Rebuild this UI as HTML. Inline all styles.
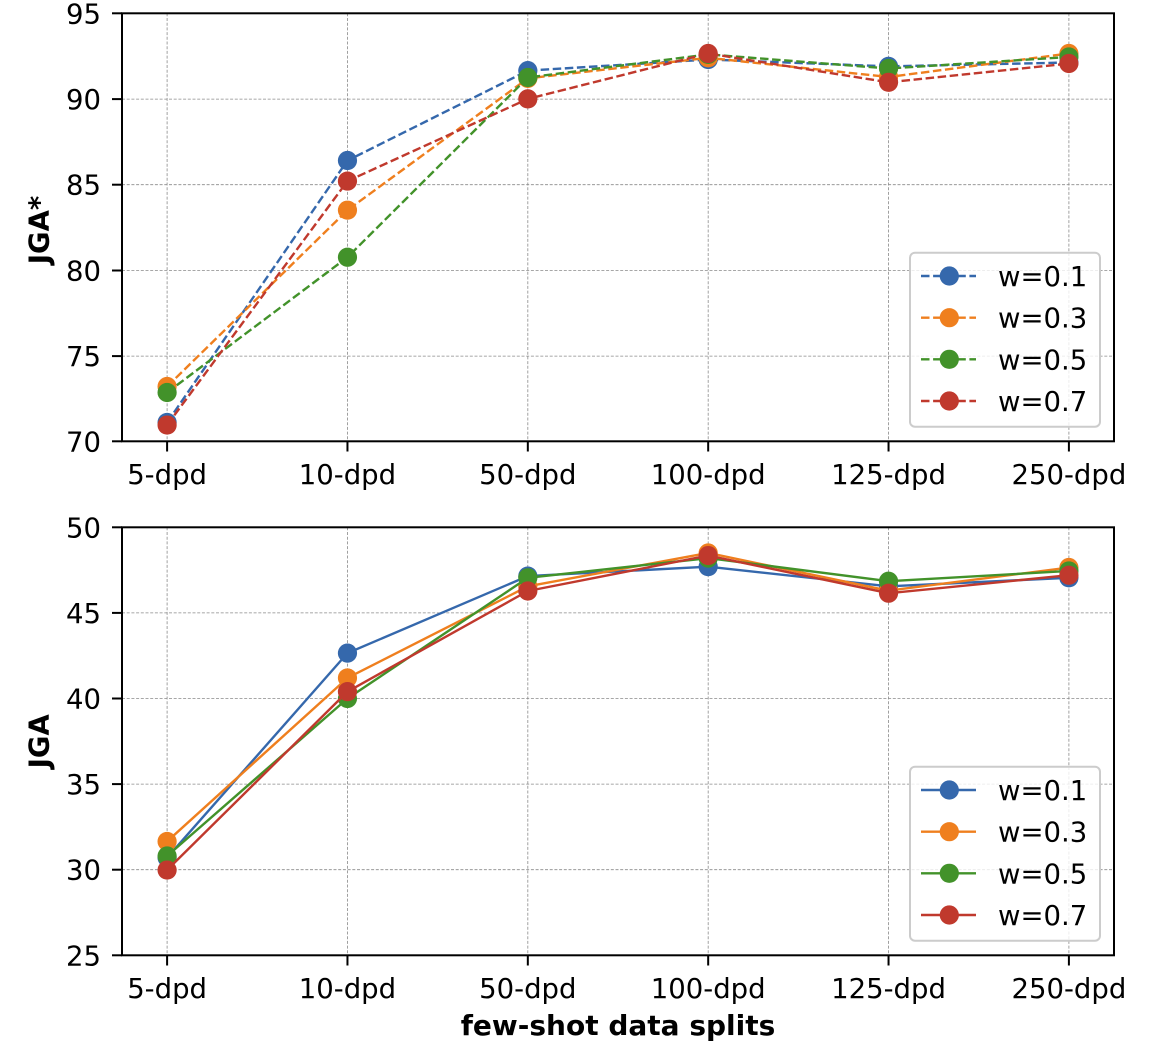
<!DOCTYPE html>
<html><head><meta charset="utf-8"><style>
html,body{margin:0;padding:0;background:#fff;}
svg{display:block;}
text{font-family:"DejaVu Sans","Liberation Sans",sans-serif;fill:#000;}
</style></head><body>
<svg width="1162" height="1046" viewBox="0 0 1162 1046" xmlns="http://www.w3.org/2000/svg">
<rect width="1162" height="1046" fill="#fff"/>

<!-- ===== TOP AXES ===== -->
<g stroke="#8a8a8a" stroke-width="0.8" stroke-dasharray="3 1.7" fill="none">
  <line x1="167.1" y1="13.3" x2="167.1" y2="441.3"/>
  <line x1="347.46" y1="13.3" x2="347.46" y2="441.3"/>
  <line x1="527.82" y1="13.3" x2="527.82" y2="441.3"/>
  <line x1="708.18" y1="13.3" x2="708.18" y2="441.3"/>
  <line x1="888.54" y1="13.3" x2="888.54" y2="441.3"/>
  <line x1="1068.9" y1="13.3" x2="1068.9" y2="441.3"/>
  <line x1="122" y1="99.1" x2="1114" y2="99.1"/>
  <line x1="122" y1="184.7" x2="1114" y2="184.7"/>
  <line x1="122" y1="270.5" x2="1114" y2="270.5"/>
  <line x1="122" y1="356.1" x2="1114" y2="356.1"/>
</g>

<g stroke-width="2.4" fill="none" stroke-dasharray="8.5 3.6" stroke-linejoin="round">
  <polyline stroke="#3568ac" points="167.1,422.47 347.46,160.53 527.82,70.65 708.18,59.52 888.54,66.37 1068.9,62.5"/>
</g>
<g fill="#3568ac">
  <circle cx="167.1" cy="422.47" r="9.6"/><circle cx="347.46" cy="160.53" r="9.6"/><circle cx="527.82" cy="70.65" r="9.6"/><circle cx="708.18" cy="59.52" r="9.6"/><circle cx="888.54" cy="66.37" r="9.6"/><circle cx="1068.9" cy="62.5" r="9.6"/>
</g>
<polyline stroke="#ef7f1e" stroke-width="2.4" fill="none" stroke-dasharray="8.5 3.6" points="167.1,386.52 347.46,210.18 527.82,78.36 708.18,57.81 888.54,77 1068.9,53.5"/>
<g fill="#ef7f1e">
  <circle cx="167.1" cy="386.52" r="9.6"/><circle cx="347.46" cy="210.18" r="9.6"/><circle cx="527.82" cy="78.36" r="9.6"/><circle cx="708.18" cy="57.81" r="9.6"/><circle cx="888.54" cy="77" r="9.6"/><circle cx="1068.9" cy="53.5" r="9.6"/>
</g>
<polyline stroke="#42922a" stroke-width="2.4" fill="none" stroke-dasharray="8.5 3.6" points="167.1,392.51 347.46,257.26 527.82,77.5 708.18,54.39 888.54,68.5 1068.9,56.96"/>
<g fill="#42922a">
  <circle cx="167.1" cy="392.51" r="9.6"/><circle cx="347.46" cy="257.26" r="9.6"/><circle cx="527.82" cy="77.5" r="9.6"/><circle cx="708.18" cy="54.39" r="9.6"/><circle cx="888.54" cy="68.5" r="9.6"/><circle cx="1068.9" cy="56.96" r="9.6"/>
</g>
<polyline stroke="#c0392d" stroke-width="2.4" fill="none" stroke-dasharray="8.5 3.6" points="167.1,425.04 347.46,181.08 527.82,98.9 708.18,53.5 888.54,82.3 1068.9,63.5"/>
<g fill="#c0392d">
  <circle cx="167.1" cy="425.04" r="9.6"/><circle cx="347.46" cy="181.08" r="9.6"/><circle cx="527.82" cy="98.9" r="9.6"/><circle cx="708.18" cy="53.5" r="9.6"/><circle cx="888.54" cy="82.3" r="9.6"/><circle cx="1068.9" cy="63.5" r="9.6"/>
</g>

<!-- spines & ticks top -->
<rect x="122" y="13.3" width="992" height="428" fill="none" stroke="#000" stroke-width="2"/>
<g stroke="#000" stroke-width="2">
  <line x1="167.1" y1="441.3" x2="167.1" y2="451.5"/>
  <line x1="347.46" y1="441.3" x2="347.46" y2="451.5"/>
  <line x1="527.82" y1="441.3" x2="527.82" y2="451.5"/>
  <line x1="708.18" y1="441.3" x2="708.18" y2="451.5"/>
  <line x1="888.54" y1="441.3" x2="888.54" y2="451.5"/>
  <line x1="1068.9" y1="441.3" x2="1068.9" y2="451.5"/>
  <line x1="112" y1="13.3" x2="122" y2="13.3"/>
  <line x1="112" y1="99.1" x2="122" y2="99.1"/>
  <line x1="112" y1="184.7" x2="122" y2="184.7"/>
  <line x1="112" y1="270.5" x2="122" y2="270.5"/>
  <line x1="112" y1="356.1" x2="122" y2="356.1"/>
  <line x1="112" y1="441.3" x2="122" y2="441.3"/>
</g>
<g font-size="27.5" text-anchor="end">
  <text x="101" y="23.3">95</text>
  <text x="101" y="109.1">90</text>
  <text x="101" y="194.7">85</text>
  <text x="101" y="280.5">80</text>
  <text x="101" y="366.1">75</text>
  <text x="101" y="451.3">70</text>
</g>
<g font-size="27.5" text-anchor="middle">
  <text x="167.1" y="483.8">5-dpd</text>
  <text x="347.46" y="483.8">10-dpd</text>
  <text x="527.82" y="483.8">50-dpd</text>
  <text x="708.18" y="483.8">100-dpd</text>
  <text x="888.54" y="483.8">125-dpd</text>
  <text x="1068.9" y="483.8">250-dpd</text>
</g>
<text transform="translate(48.5,230) rotate(-90)" text-anchor="middle" font-size="27.5" font-weight="bold">JGA*</text>

<!-- legend top -->
<rect x="910" y="252.7" width="190" height="174" rx="5" fill="#fff" fill-opacity="0.8" stroke="#cccccc" stroke-width="2"/>
<g stroke-width="2.4" stroke-dasharray="8.5 3.6">
  <line x1="921" y1="276" x2="976" y2="276" stroke="#3568ac"/>
  <line x1="921" y1="317.7" x2="976" y2="317.7" stroke="#ef7f1e"/>
  <line x1="921" y1="359.3" x2="976" y2="359.3" stroke="#42922a"/>
  <line x1="921" y1="401" x2="976" y2="401" stroke="#c0392d"/>
</g>
<circle cx="949.3" cy="276" r="9.6" fill="#3568ac"/>
<circle cx="949.3" cy="317.7" r="9.6" fill="#ef7f1e"/>
<circle cx="949.3" cy="359.3" r="9.6" fill="#42922a"/>
<circle cx="949.3" cy="401" r="9.6" fill="#c0392d"/>
<g font-size="27.5">
  <text x="998" y="286">w=0.1</text>
  <text x="998" y="327.7">w=0.3</text>
  <text x="998" y="369.3">w=0.5</text>
  <text x="998" y="411">w=0.7</text>
</g>

<!-- ===== BOTTOM AXES ===== -->
<g stroke="#8a8a8a" stroke-width="0.8" stroke-dasharray="3 1.7" fill="none">
  <line x1="167.1" y1="527.3" x2="167.1" y2="955.3"/>
  <line x1="347.46" y1="527.3" x2="347.46" y2="955.3"/>
  <line x1="527.82" y1="527.3" x2="527.82" y2="955.3"/>
  <line x1="708.18" y1="527.3" x2="708.18" y2="955.3"/>
  <line x1="888.54" y1="527.3" x2="888.54" y2="955.3"/>
  <line x1="1068.9" y1="527.3" x2="1068.9" y2="955.3"/>
  <line x1="122" y1="612.9" x2="1114" y2="612.9"/>
  <line x1="122" y1="698.5" x2="1114" y2="698.5"/>
  <line x1="122" y1="784.1" x2="1114" y2="784.1"/>
  <line x1="122" y1="869.7" x2="1114" y2="869.7"/>
</g>

<polyline stroke="#3568ac" stroke-width="2.4" fill="none" stroke-linejoin="round" points="167.1,857.72 347.46,653.13 527.82,576.09 708.18,566.68 888.54,586.36 1068.9,577.8"/>
<g fill="#3568ac">
  <circle cx="167.1" cy="857.72" r="9.6"/><circle cx="347.46" cy="653.13" r="9.6"/><circle cx="527.82" cy="576.09" r="9.6"/><circle cx="708.18" cy="566.68" r="9.6"/><circle cx="888.54" cy="586.36" r="9.6"/><circle cx="1068.9" cy="577.8" r="9.6"/>
</g>
<polyline stroke="#ef7f1e" stroke-width="2.4" fill="none" stroke-linejoin="round" points="167.1,841.45 347.46,677.96 527.82,586.36 708.18,552.98 888.54,590.64 1068.9,567.53"/>
<g fill="#ef7f1e">
  <circle cx="167.1" cy="841.45" r="9.6"/><circle cx="347.46" cy="677.96" r="9.6"/><circle cx="527.82" cy="586.36" r="9.6"/><circle cx="708.18" cy="552.98" r="9.6"/><circle cx="888.54" cy="590.64" r="9.6"/><circle cx="1068.9" cy="567.53" r="9.6"/>
</g>
<polyline stroke="#42922a" stroke-width="2.4" fill="none" stroke-linejoin="round" points="167.1,856 347.46,698.5 527.82,577.8 708.18,558.12 888.54,581.23 1068.9,570.96"/>
<g fill="#42922a">
  <circle cx="167.1" cy="856" r="9.6"/><circle cx="347.46" cy="698.5" r="9.6"/><circle cx="527.82" cy="577.8" r="9.6"/><circle cx="708.18" cy="558.12" r="9.6"/><circle cx="888.54" cy="581.23" r="9.6"/><circle cx="1068.9" cy="570.96" r="9.6"/>
</g>
<polyline stroke="#c0392d" stroke-width="2.4" fill="none" stroke-linejoin="round" points="167.1,870.04 347.46,691.65 527.82,590.99 708.18,555.55 888.54,593.21 1068.9,575.24"/>
<g fill="#c0392d">
  <circle cx="167.1" cy="870.04" r="9.6"/><circle cx="347.46" cy="691.65" r="9.6"/><circle cx="527.82" cy="590.99" r="9.6"/><circle cx="708.18" cy="555.55" r="9.6"/><circle cx="888.54" cy="593.21" r="9.6"/><circle cx="1068.9" cy="575.24" r="9.6"/>
</g>

<rect x="122" y="527.3" width="992" height="428" fill="none" stroke="#000" stroke-width="2"/>
<g stroke="#000" stroke-width="2">
  <line x1="167.1" y1="955.3" x2="167.1" y2="965.5"/>
  <line x1="347.46" y1="955.3" x2="347.46" y2="965.5"/>
  <line x1="527.82" y1="955.3" x2="527.82" y2="965.5"/>
  <line x1="708.18" y1="955.3" x2="708.18" y2="965.5"/>
  <line x1="888.54" y1="955.3" x2="888.54" y2="965.5"/>
  <line x1="1068.9" y1="955.3" x2="1068.9" y2="965.5"/>
  <line x1="112" y1="527.3" x2="122" y2="527.3"/>
  <line x1="112" y1="612.9" x2="122" y2="612.9"/>
  <line x1="112" y1="698.5" x2="122" y2="698.5"/>
  <line x1="112" y1="784.1" x2="122" y2="784.1"/>
  <line x1="112" y1="869.7" x2="122" y2="869.7"/>
  <line x1="112" y1="955.3" x2="122" y2="955.3"/>
</g>
<g font-size="27.5" text-anchor="end">
  <text x="101" y="537.3">50</text>
  <text x="101" y="622.9">45</text>
  <text x="101" y="708.5">40</text>
  <text x="101" y="794.1">35</text>
  <text x="101" y="879.7">30</text>
  <text x="101" y="965.3">25</text>
</g>
<g font-size="27.5" text-anchor="middle">
  <text x="167.1" y="997.8">5-dpd</text>
  <text x="347.46" y="997.8">10-dpd</text>
  <text x="527.82" y="997.8">50-dpd</text>
  <text x="708.18" y="997.8">100-dpd</text>
  <text x="888.54" y="997.8">125-dpd</text>
  <text x="1068.9" y="997.8">250-dpd</text>
</g>
<text transform="translate(48.5,741.3) rotate(-90)" text-anchor="middle" font-size="27.5" font-weight="bold">JGA</text>
<text x="618" y="1035" text-anchor="middle" font-size="28" font-weight="bold">few-shot data splits</text>

<!-- legend bottom -->
<rect x="910" y="766.7" width="190" height="174" rx="5" fill="#fff" fill-opacity="0.8" stroke="#cccccc" stroke-width="2"/>
<g stroke-width="2.4">
  <line x1="921" y1="790" x2="976" y2="790" stroke="#3568ac"/>
  <line x1="921" y1="831.7" x2="976" y2="831.7" stroke="#ef7f1e"/>
  <line x1="921" y1="873.3" x2="976" y2="873.3" stroke="#42922a"/>
  <line x1="921" y1="915" x2="976" y2="915" stroke="#c0392d"/>
</g>
<circle cx="949.3" cy="790" r="9.6" fill="#3568ac"/>
<circle cx="949.3" cy="831.7" r="9.6" fill="#ef7f1e"/>
<circle cx="949.3" cy="873.3" r="9.6" fill="#42922a"/>
<circle cx="949.3" cy="915" r="9.6" fill="#c0392d"/>
<g font-size="27.5">
  <text x="998" y="800">w=0.1</text>
  <text x="998" y="841.7">w=0.3</text>
  <text x="998" y="883.3">w=0.5</text>
  <text x="998" y="925">w=0.7</text>
</g>
</svg>
</body></html>
